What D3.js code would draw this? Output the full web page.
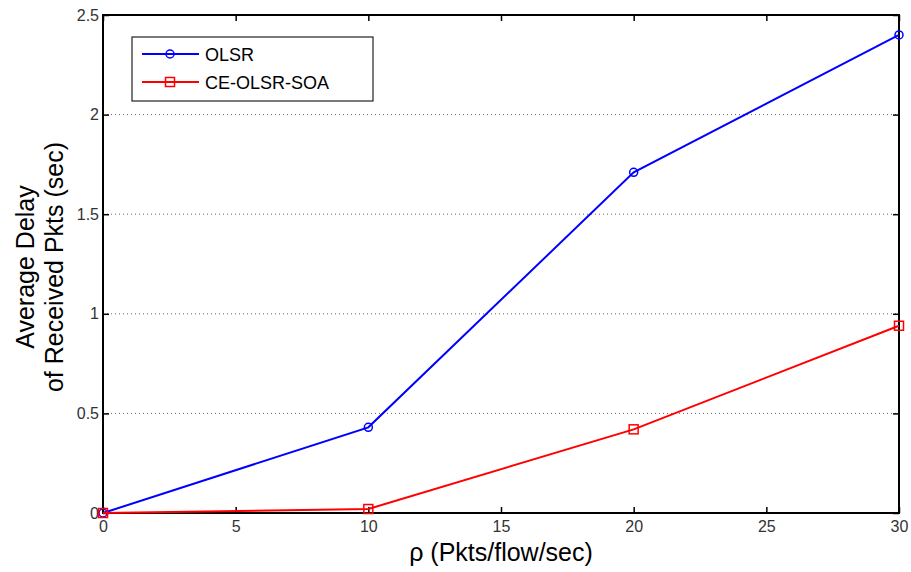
<!DOCTYPE html>
<html>
<head>
<meta charset="utf-8">
<script src="https://cdn.jsdelivr.net/npm/d3@7"></script>
<style>
body{margin:0;background:#fff;}
svg text{font-family:"Liberation Sans",Arial,sans-serif;}
</style>
</head>
<body>
<div id="chart"></div>
<script>
var rho = [0, 10, 20, 30];
var olsr = [0, 0.43, 1.71, 2.4];
var ceOlsrSoa = [0, 0.02, 0.42, 0.94];
var xTicks = [0, 5, 10, 15, 20, 25, 30];
var yTicks = [0, 0.5, 1, 1.5, 2, 2.5];

var W = 911, H = 572;
var margin = {left:103, top:15, right:12, bottom:59};
var w = W - margin.left - margin.right, h = H - margin.top - margin.bottom;

var svg = d3.select("#chart").append("svg")
  .attr("width", W).attr("height", H);
var g = svg.append("g")
  .attr("transform", "translate(" + margin.left + "," + margin.top + ")");

var x = d3.scaleLinear().domain([0, 30]).range([0, w]);
var y = d3.scaleLinear().domain([0, 2.5]).range([h, 0]);

// dotted grid
g.selectAll(".grid").data(yTicks.slice(1, -1)).enter()
  .append("line")
  .attr("x1", 0).attr("x2", w)
  .attr("y1", function(d){return y(d);}).attr("y2", function(d){return y(d);})
  .attr("stroke", "#000").attr("stroke-width", 1)
  .attr("stroke-dasharray", "1,3").attr("opacity", 0.6);

// axes with inward ticks
var fmt = d3.format("~g");
var axB = g.append("g").attr("transform", "translate(0," + h + ")")
  .call(d3.axisBottom(x).tickValues(xTicks).tickSize(-6).tickPadding(8).tickSizeOuter(0).tickFormat(fmt));
var axT = g.append("g")
  .call(d3.axisTop(x).tickValues(xTicks).tickSize(-6).tickFormat("").tickSizeOuter(0));
var axL = g.append("g")
  .call(d3.axisLeft(y).tickValues(yTicks).tickSize(-6).tickPadding(4).tickSizeOuter(0).tickFormat(fmt));
var axR = g.append("g").attr("transform", "translate(" + w + ",0)")
  .call(d3.axisRight(y).tickValues(yTicks).tickSize(-6).tickFormat("").tickSizeOuter(0));
[axB, axT, axL, axR].forEach(function(a){
  a.select(".domain").remove();
  a.selectAll("line").attr("stroke", "#000").attr("stroke-width", 1.5);
  a.selectAll("text").attr("font-size", 16).attr("fill", "#333")
   .attr("font-family", "Liberation Sans, Arial, sans-serif");
});

// frame
g.append("rect").attr("width", w).attr("height", h)
  .attr("fill", "none").attr("stroke", "#000").attr("stroke-width", 2);

var line = d3.line()
  .x(function(d, i){return x(rho[i]);})
  .y(function(d){return y(d);});

// OLSR
g.append("path").datum(olsr).attr("d", line)
  .attr("fill", "none").attr("stroke", "#0000ff").attr("stroke-width", 2);
g.selectAll(".olsrPt").data(olsr).enter().append("circle")
  .attr("cx", function(d, i){return x(rho[i]);})
  .attr("cy", function(d){return y(d);})
  .attr("r", 4).attr("fill", "none").attr("stroke", "#0000ff").attr("stroke-width", 1.5);

// CE-OLSR-SOA
g.append("path").datum(ceOlsrSoa).attr("d", line)
  .attr("fill", "none").attr("stroke", "#ff0000").attr("stroke-width", 2);
g.selectAll(".cePt").data(ceOlsrSoa).enter().append("rect")
  .attr("x", function(d, i){return x(rho[i]) - 4.5;})
  .attr("y", function(d){return y(d) - 4.5;})
  .attr("width", 9).attr("height", 9)
  .attr("fill", "none").attr("stroke", "#ff0000").attr("stroke-width", 1.5);

// legend
var lg = svg.append("g").attr("transform", "translate(132,37)");
lg.append("rect").attr("width", 241).attr("height", 64)
  .attr("fill", "#fff").attr("stroke", "#222").attr("stroke-width", 1.2);
var legendData = [
  {name:"OLSR", color:"#0000ff", shape:"circle"},
  {name:"CE-OLSR-SOA", color:"#ff0000", shape:"square"}
];
var items = lg.selectAll(".item").data(legendData).enter().append("g")
  .attr("transform", function(d, i){return "translate(0," + (17 + i * 28) + ")";});
items.append("line").attr("x1", 10).attr("x2", 67).attr("y1", 0).attr("y2", 0)
  .attr("stroke", function(d){return d.color;}).attr("stroke-width", 2);
items.each(function(d){
  var s = d3.select(this);
  if (d.shape === "circle") {
    s.append("circle").attr("cx", 38).attr("cy", 0).attr("r", 4)
      .attr("fill", "none").attr("stroke", d.color).attr("stroke-width", 1.5);
  } else {
    s.append("rect").attr("x", 33.5).attr("y", -4.5).attr("width", 9).attr("height", 9)
      .attr("fill", "none").attr("stroke", d.color).attr("stroke-width", 1.5);
  }
});
items.append("text").attr("x", 73).attr("y", 7)
  .attr("font-size", 18).attr("fill", "#000")
  .text(function(d){return d.name;});

// axis labels
svg.append("text").attr("x", margin.left + w / 2).attr("y", 561)
  .attr("text-anchor", "middle").attr("font-size", 25).attr("fill", "#000")
  .text("ρ (Pkts/flow/sec)");
var yl = svg.append("text")
  .attr("transform", "translate(0," + (margin.top + h / 2 + 3) + ") rotate(-90)")
  .attr("text-anchor", "middle").attr("font-size", 25).attr("fill", "#000");
yl.append("tspan").attr("x", 0).attr("y", 34).text("Average Delay");
yl.append("tspan").attr("x", 0).attr("y", 63).text("of Received Pkts (sec)");
</script>
</body>
</html>
